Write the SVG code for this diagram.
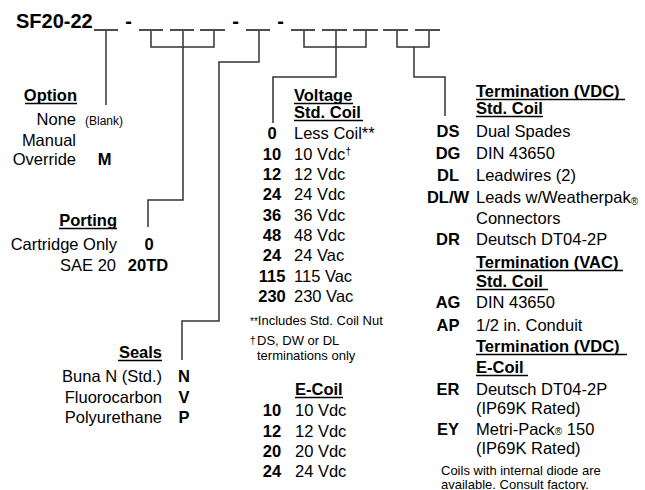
<svg xmlns="http://www.w3.org/2000/svg" width="645" height="490" viewBox="0 0 645 490">
<style>
text{font-family:"Liberation Sans",Arial,sans-serif;fill:#000;font-size:16.5px}
.b{font-weight:bold}
.m{text-anchor:middle}
.e{text-anchor:end}
.s{font-size:13px}
.sup{font-size:10px}
.ul{stroke:#000;stroke-width:1.4}
.blank{stroke:#000;stroke-width:1.4}
.c{fill:none;stroke:#333;stroke-width:1.5}
</style>
<rect width="645" height="490" fill="#fff"/>
<g id="title">
<text x="16" y="28" class="b" style="font-size:20px">SF20-22</text>
<text x="128.5" y="28" class="b m" style="font-size:20px">-</text>
<text x="235.5" y="28" class="b m" style="font-size:20px">-</text>
<text x="280.5" y="28" class="b m" style="font-size:20px">-</text>
<g class="blank">
<line x1="94" y1="30" x2="118" y2="30"/>
<line x1="139" y1="30" x2="163" y2="30"/>
<line x1="170" y1="30" x2="194" y2="30"/>
<line x1="200" y1="30" x2="225" y2="30"/>
<line x1="246" y1="30" x2="270" y2="30"/>
<line x1="291" y1="30" x2="315" y2="30"/>
<line x1="322" y1="30" x2="347" y2="30"/>
<line x1="353" y1="30" x2="378" y2="30"/>
<line x1="383" y1="30" x2="408" y2="30"/>
<line x1="415" y1="30" x2="440" y2="30"/>
</g>
</g>
<g id="connectors" class="c">
<path d="M106,31 V105"/>
<path d="M151,31 V47 H214 V31"/>
<path d="M183,31 V200 H148 V227"/>
<path d="M259,31 V62 H219 V321 H182 V360"/>
<path d="M304,31 V47 H366 V31"/>
<path d="M336,31 V77 H273 V123"/>
<path d="M397,31 V47 H429 V31"/>
<path d="M414,47 V77 H445 V116"/>
</g>
<g id="option">
<text x="77" y="101" class="b e">Option</text>
<line class="ul" x1="25" y1="103.5" x2="77" y2="103.5"/>
<text x="76" y="125" class="e">None</text>
<text x="85" y="125" style="font-size:12px">(Blank)</text>
<text x="76" y="146" class="e">Manual</text>
<text x="76" y="165" class="e">Override</text>
<text x="104.5" y="165" class="b m">M</text>
</g>
<g id="porting">
<text x="117" y="226" class="b e">Porting</text>
<line class="ul" x1="59" y1="228.5" x2="117" y2="228.5"/>
<text x="117" y="250" class="e">Cartridge Only</text>
<text x="149" y="250" class="b m">0</text>
<text x="116" y="271" class="e">SAE 20</text>
<text x="148" y="271" class="b m">20TD</text>
</g>
<g id="seals">
<text x="162" y="358" class="b e">Seals</text>
<line class="ul" x1="118" y1="360.5" x2="162" y2="360.5"/>
<text x="162" y="382" class="e">Buna N (Std.)</text>
<text x="184" y="382" class="b m">N</text>
<text x="162" y="403" class="e">Fluorocarbon</text>
<text x="184" y="403" class="b m">V</text>
<text x="162" y="423" class="e">Polyurethane</text>
<text x="184" y="423" class="b m">P</text>
</g>
<g id="voltage">
<text x="294" y="101" class="b">Voltage</text>
<line class="ul" x1="294" y1="103.5" x2="353" y2="103.5"/>
<text x="294" y="118" class="b">Std. Coil</text>
<line class="ul" x1="294" y1="120.5" x2="363" y2="120.5"/>
<text x="272" y="139" class="b m">0</text><text x="294" y="139">Less Coil**</text>
<text x="272" y="160" class="b m">10</text><text x="294" y="160">10 Vdc<tspan class="sup" dy="-5">†</tspan></text>
<text x="272" y="180" class="b m">12</text><text x="294" y="180">12 Vdc</text>
<text x="272" y="200" class="b m">24</text><text x="294" y="200">24 Vdc</text>
<text x="272" y="221" class="b m">36</text><text x="294" y="221">36 Vdc</text>
<text x="272" y="241" class="b m">48</text><text x="294" y="241">48 Vdc</text>
<text x="272" y="261" class="b m">24</text><text x="294" y="261">24 Vac</text>
<text x="272" y="282" class="b m">115</text><text x="294" y="282">115 Vac</text>
<text x="272" y="302" class="b m">230</text><text x="294" y="302">230 Vac</text>
<text x="250" y="325" class="s"><tspan class="sup">**</tspan>Includes Std. Coil Nut</text>
<text x="250" y="344" class="sup">†</text>
<text x="257" y="345" class="s">DS, DW or DL</text>
<text x="257" y="360" class="s">terminations only</text>
</g>
<g id="ecoil">
<text x="295" y="395" class="b">E-Coil</text>
<line class="ul" x1="295" y1="397.5" x2="343" y2="397.5"/>
<text x="272" y="416" class="b m">10</text><text x="295" y="416">10 Vdc</text>
<text x="272" y="437" class="b m">12</text><text x="295" y="437">12 Vdc</text>
<text x="272" y="457" class="b m">20</text><text x="295" y="457">20 Vdc</text>
<text x="272" y="477" class="b m">24</text><text x="295" y="477">24 Vdc</text>
</g>
<g id="termination">
<text x="476" y="97" class="b">Termination (VDC)</text>
<line class="ul" x1="476" y1="99.5" x2="625" y2="99.5"/>
<text x="476" y="114" class="b">Std. Coil</text>
<line class="ul" x1="476" y1="116.5" x2="543" y2="116.5"/>
<text x="448" y="137" class="b m">DS</text><text x="476" y="137">Dual Spades</text>
<text x="448" y="159" class="b m">DG</text><text x="476" y="159">DIN 43650</text>
<text x="448" y="181" class="b m">DL</text><text x="476" y="181">Leadwires (2)</text>
<text x="448" y="203" class="b m">DL/W</text><text x="476" y="203">Leads w/Weatherpak<tspan class="sup" dy="2">®</tspan></text>
<text x="476" y="224">Connectors</text>
<text x="448" y="245" class="b m">DR</text><text x="476" y="245">Deutsch DT04-2P</text>
<text x="476" y="268" class="b">Termination (VAC)</text>
<line class="ul" x1="476" y1="270.5" x2="623" y2="270.5"/>
<text x="476" y="287" class="b">Std. Coil</text>
<line class="ul" x1="476" y1="289.5" x2="548" y2="289.5"/>
<text x="448" y="308" class="b m">AG</text><text x="476" y="308">DIN 43650</text>
<text x="448" y="331" class="b m">AP</text><text x="476" y="331">1/2 in. Conduit</text>
<text x="476" y="352" class="b">Termination (VDC)</text>
<line class="ul" x1="476" y1="354.5" x2="627" y2="354.5"/>
<text x="476" y="373" class="b">E-Coil</text>
<line class="ul" x1="476" y1="375.5" x2="528" y2="375.5"/>
<text x="448" y="395" class="b m">ER</text><text x="476" y="395">Deutsch DT04-2P</text>
<text x="476" y="414">(IP69K Rated)</text>
<text x="448" y="435" class="b m">EY</text><text x="476" y="435">Metri-Pack<tspan class="sup">®</tspan> 150</text>
<text x="476" y="454">(IP69K Rated)</text>
<text x="441" y="475" class="s">Coils with internal diode are</text>
<text x="441" y="489" class="s">available. Consult factory.</text>
</g>
</svg>
